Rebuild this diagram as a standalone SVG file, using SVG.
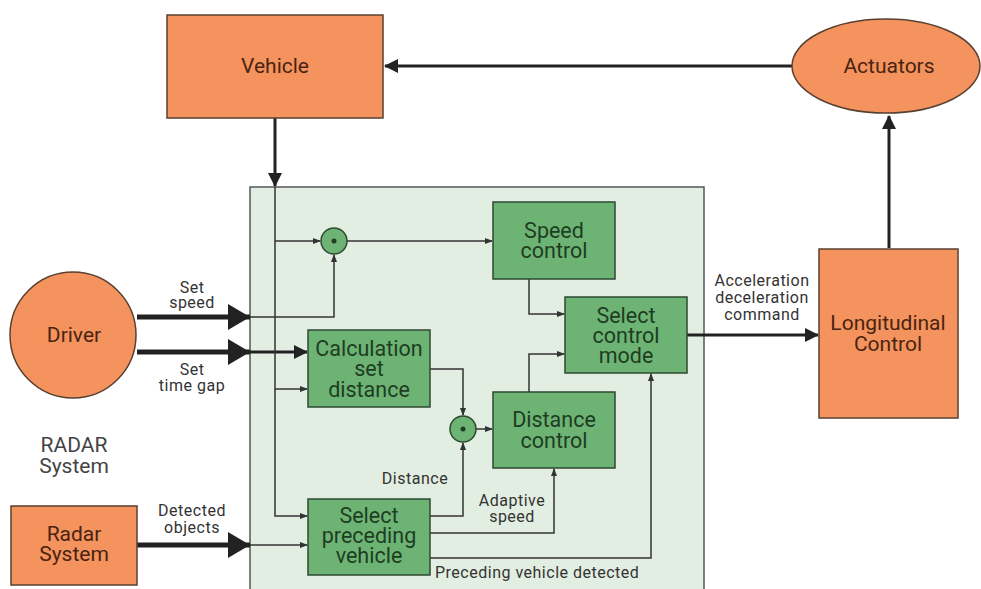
<svg xmlns="http://www.w3.org/2000/svg" width="981" height="589" viewBox="0 0 981 589">
<style>
.or{fill:#F4935D;stroke:#5a4030;stroke-width:1.5}
.gb{fill:#6DB374;stroke:#2e4a32;stroke-width:1.5}
.ct{fill:#E2EEE1;stroke:#555;stroke-width:1.5}
.t{font-family:Roboto,"Liberation Sans",sans-serif;text-anchor:middle}
.to{fill:#4a2412;font-size:21px}
.tg{fill:#1e3d22;font-size:21.5px}
.tl{fill:#333;font-size:16px;letter-spacing:0.5px}
.th{fill:none;stroke:#222;stroke-width:3}
.tk{fill:none;stroke:#222;stroke-width:5}
.tn{fill:none;stroke:#333;stroke-width:1.5}
</style>
<defs>
<marker id="as" markerWidth="8" markerHeight="8" refX="7" refY="4" orient="auto" markerUnits="userSpaceOnUse"><path d="M0,1 L8,4 L0,7 z" fill="#333"/></marker>
<marker id="am" markerWidth="14" markerHeight="14" refX="13" refY="7" orient="auto" markerUnits="userSpaceOnUse"><path d="M0,0 L14,7 L0,14 z" fill="#222"/></marker>
<marker id="ab" markerWidth="22" markerHeight="26" refX="22" refY="13" orient="auto" markerUnits="userSpaceOnUse"><path d="M0,0 L22,13 L0,26 z" fill="#222"/></marker>
</defs>
<rect x="0" y="0" width="981" height="589" fill="#fff"/>
<g id="container"><rect class="ct" x="250" y="187" width="454" height="410"/></g>

<g id="connectors">
<path class="th" d="M792,66 H385" marker-end="url(#am)"/>
<path class="th" d="M275,118 V186" marker-end="url(#am)"/>
<path class="th" d="M889,248 V116" marker-end="url(#am)"/>
<path class="th" d="M687,335 H818" marker-end="url(#am)"/>
<path class="tk" d="M137,317 H250" marker-end="url(#ab)"/>
<path class="tk" d="M137,352 H250" marker-end="url(#ab)"/>
<path class="tk" d="M137,545 H250" marker-end="url(#ab)"/>
<path class="th" d="M250,352 H307" marker-end="url(#am)"/>
<path class="tn" d="M250,317 H334 V255" marker-end="url(#as)"/>
<path class="tn" d="M250,545 H307" marker-end="url(#as)"/>
<path class="tn" d="M275,187 V516 H307" marker-end="url(#as)"/>
<path class="tn" d="M275,241 H320" marker-end="url(#as)"/>
<path class="tn" d="M275,389 H307" marker-end="url(#as)"/>
<path class="tn" d="M347,241 H492" marker-end="url(#as)"/>
<path class="tn" d="M430,369 H463 V415" marker-end="url(#as)"/>
<path class="tn" d="M430,516 H463 V443" marker-end="url(#as)"/>
<path class="tn" d="M476,429 H492" marker-end="url(#as)"/>
<path class="tn" d="M430,533 H554 V469" marker-end="url(#as)"/>
<path class="tn" d="M430,558 H651 V374" marker-end="url(#as)"/>
<path class="tn" d="M529,279 V314 H564" marker-end="url(#as)"/>
<path class="tn" d="M529,392 V354 H564" marker-end="url(#as)"/>
</g>

<g id="vehicle"><rect class="or" x="167" y="15" width="216" height="103"/><text class="t to" x="275" y="73">Vehicle</text></g>
<g id="actuators"><ellipse class="or" cx="886" cy="66" rx="94" ry="47"/><text class="t to" x="889" y="73">Actuators</text></g>
<g id="driver"><circle class="or" cx="73" cy="335" r="63"/><text class="t to" x="74" y="342">Driver</text></g>
<g id="radar"><rect class="or" x="11" y="506" width="126" height="79"/><text class="t to" x="74" y="541">Radar</text><text class="t to" x="74" y="561">System</text></g>
<g id="radar-label"><text class="t" style="fill:#444;font-size:21px" x="74" y="452">RADAR</text><text class="t" style="fill:#444;font-size:21px" x="74" y="473">System</text></g>
<g id="longitudinal"><rect class="or" x="819" y="249" width="139" height="169"/><text class="t to" x="888" y="330">Longitudinal</text><text class="t to" x="888" y="351">Control</text></g>

<g id="sum1"><circle class="gb" cx="334" cy="241" r="13"/><circle cx="334" cy="241" r="2.5" fill="#1e3d22"/></g>
<g id="sum2"><circle class="gb" cx="463" cy="429" r="13"/><circle cx="463" cy="429" r="2.5" fill="#1e3d22"/></g>

<g id="speed-control"><rect class="gb" x="493" y="202" width="122" height="77"/><text class="t tg" x="554" y="238">Speed</text><text class="t tg" x="554" y="258">control</text></g>
<g id="select-control-mode"><rect class="gb" x="565" y="297" width="122" height="76"/><text class="t tg" x="626" y="323">Select</text><text class="t tg" x="626" y="343">control</text><text class="t tg" x="626" y="363">mode</text></g>
<g id="calculation"><rect class="gb" x="308" y="330" width="122" height="77"/><text class="t tg" x="369" y="356">Calculation</text><text class="t tg" x="369" y="376">set</text><text class="t tg" x="369" y="397">distance</text></g>
<g id="distance-control"><rect class="gb" x="493" y="392" width="122" height="76"/><text class="t tg" x="554" y="427">Distance</text><text class="t tg" x="554" y="448">control</text></g>
<g id="select-preceding"><rect class="gb" x="308" y="499" width="122" height="76"/><text class="t tg" x="369" y="523">Select</text><text class="t tg" x="369" y="543">preceding</text><text class="t tg" x="369" y="563">vehicle</text></g>

<g id="labels">
<text class="t tl" x="192" y="293">Set</text><text class="t tl" x="192" y="308">speed</text>
<text class="t tl" x="192" y="375">Set</text><text class="t tl" x="192" y="391">time gap</text>
<text class="t tl" x="192" y="516">Detected</text><text class="t tl" x="192" y="533">objects</text>
<text class="t tl" x="415" y="484">Distance</text>
<text class="t tl" x="512" y="506">Adaptive</text><text class="t tl" x="512" y="522">speed</text>
<text class="tl" style="font-family:Roboto,'Liberation Sans',sans-serif" x="435" y="578">Preceding vehicle detected</text>
<text class="t tl" x="762" y="286">Acceleration</text><text class="t tl" x="762" y="303">deceleration</text><text class="t tl" x="762" y="320">command</text>
</g>
</svg>
